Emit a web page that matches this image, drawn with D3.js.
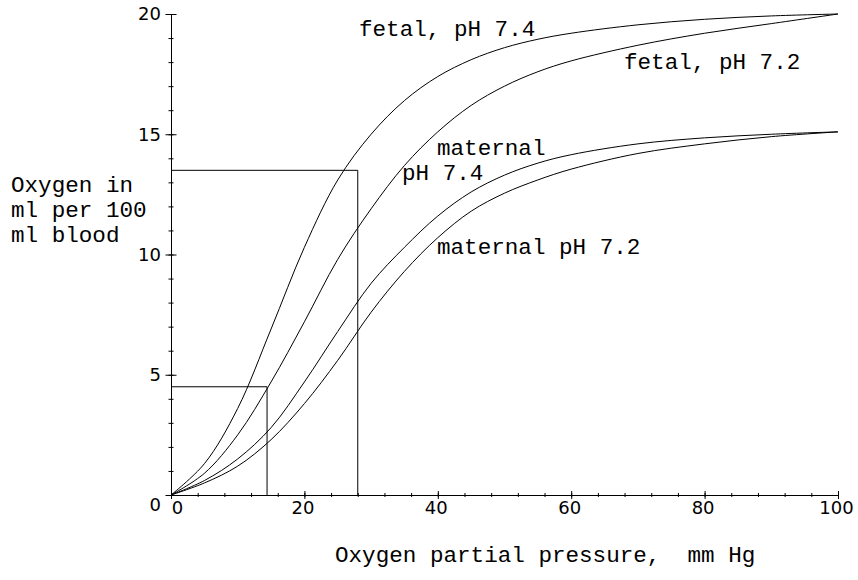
<!DOCTYPE html>
<html>
<head>
<meta charset="utf-8">
<script src="https://cdn.jsdelivr.net/npm/d3@7"></script>
<style>
  body { margin: 0; background: #fff; }
  .lbl { font-family: "Courier New", Courier, "Nimbus Mono PS", "Nimbus Mono L", FreeMono, "Liberation Mono", monospace; font-size: 22.6px; fill: #000; }
  .tick text { font-family: "DejaVu Sans", sans-serif; font-size: 18px; fill: #000; }
</style>
</head>
<body>
<div id="container"></div>
<script>
let w = 858;
let h = 580;

// oxygen partial pressure (mm Hg) where curve values were read
let pressure = [0, 5, 10, 15, 20, 25, 30, 35, 40, 45, 50, 55, 60, 70, 80, 90, 100];
// oxygen content, ml per 100 ml blood
let fetal74    = [0, 1.3, 3.6, 6.9, 10.3, 13.1, 15.0, 16.4, 17.4, 18.1, 18.6, 18.95, 19.2, 19.55, 19.78, 19.92, 20];
let fetal72    = [0, 0.9, 2.5, 4.7, 7.2, 9.8, 11.9, 13.7, 15.1, 16.2, 17.0, 17.6, 18.05, 18.7, 19.2, 19.6, 20];
let maternal74 = [0, 0.6, 1.5, 2.8, 4.7, 6.8, 8.8, 10.3, 11.6, 12.6, 13.3, 13.8, 14.15, 14.6, 14.85, 15.0, 15.1];
let maternal72 = [0, 0.5, 1.2, 2.3, 3.8, 5.6, 7.6, 9.3, 10.7, 11.8, 12.55, 13.1, 13.55, 14.2, 14.6, 14.9, 15.1];

// the two reading boxes: [pressure, oxygen]
let boxes = [[28, 13.5], [14.4, 4.5]];

let xMajor = [0, 20, 40, 60, 80, 100];
let xMinor = d3.range(0, 101, 4);
let yMajor = [0, 5, 10, 15, 20];
let yMinor = d3.range(0, 21, 1);

let viz = d3.select("#container")
  .append("svg")
    .attr("width", w)
    .attr("height", h)
    .style("background-color", "#fff");

let x = d3.scaleLinear().domain([0, 100]).range([171, 838]);
let y = d3.scaleLinear().domain([0, 20]).range([495, 14]);

// ---- axes
function bothSides(g, len) {
  g.selectAll(".tick line").attr("x1", -len).attr("x2", len);
}
function bothSidesX(g, len) {
  g.selectAll(".tick line").attr("y1", -len).attr("y2", len);
}

let yMinorAxis = viz.append("g")
  .attr("transform", "translate(" + x(0) + ",0)")
  .call(d3.axisLeft(y).tickValues(yMinor).tickFormat("").tickSizeOuter(0))
  .call(bothSides, 2.5);

let yAxis = viz.append("g")
  .attr("transform", "translate(" + x(0) + ",0)")
  .call(d3.axisLeft(y).tickValues(yMajor).tickSize(5).tickPadding(5).tickSizeOuter(0))
  .call(bothSides, 5.5);
yAxis.selectAll("path").remove();
yAxis.selectAll(".tick text").filter(function(d){ return d == 0; }).attr("dy", "0.85em");

let xMinorAxis = viz.append("g")
  .attr("transform", "translate(0," + y(0) + ")")
  .call(d3.axisBottom(x).tickValues(xMinor).tickFormat("").tickSizeOuter(0))
  .call(bothSidesX, 2);

let xAxis = viz.append("g")
  .attr("transform", "translate(0," + y(0) + ")")
  .call(d3.axisBottom(x).tickValues(xMajor).tickSize(4).tickPadding(2).tickSizeOuter(0))
  .call(bothSidesX, 4);
xAxis.selectAll("path").remove();
xAxis.selectAll(".tick text").attr("dx", -2);
xAxis.selectAll(".tick text").filter(function(d){ return d == 0; }).attr("dx", 6);

viz.selectAll(".domain").attr("stroke", "#000").attr("stroke-width", 1);
viz.selectAll(".tick line").attr("stroke", "#000").attr("stroke-width", 1);

// ---- reading boxes
let boxLine = d3.line().x(function(d){ return x(d[0]); }).y(function(d){ return y(d[1]); });
viz.selectAll(".box").data(boxes).enter()
  .append("path")
    .attr("class", "box")
    .attr("d", function(b){ return boxLine([[0, b[1]], [b[0], b[1]], [b[0], 0]]); })
    .attr("fill", "none")
    .attr("stroke", "#000")
    .attr("stroke-width", 1);

// ---- curves
let curves = [fetal74, fetal72, maternal74, maternal72];
let curveLine = d3.line()
  .x(function(d, i){ return x(pressure[i]); })
  .y(function(d){ return y(d); })
  .curve(d3.curveCatmullRom.alpha(0.5));

viz.selectAll(".curve").data(curves).enter()
  .append("path")
    .attr("class", "curve")
    .attr("d", curveLine)
    .attr("fill", "none")
    .attr("stroke", "#000")
    .attr("stroke-width", 1);

// ---- labels
let labels = [
  {t: "fetal, pH 7.4", x: 359, y: 36},
  {t: "fetal, pH 7.2", x: 624, y: 69},
  {t: "maternal", x: 437, y: 155},
  {t: "pH 7.4", x: 402, y: 180},
  {t: "maternal pH 7.2", x: 437, y: 254},
  {t: "Oxygen in", x: 11, y: 192},
  {t: "ml per 100", x: 11, y: 217},
  {t: "ml blood", x: 11, y: 242},
  {t: "Oxygen partial pressure,  mm Hg", x: 335, y: 562}
];
viz.selectAll(".lbl").data(labels).enter()
  .append("text")
    .attr("class", "lbl")
    .attr("x", function(d){ return d.x; })
    .attr("y", function(d){ return d.y; })
    .attr("xml:space", "preserve")
    .style("white-space", "pre")
    .text(function(d){ return d.t; });
</script>
</body>
</html>
